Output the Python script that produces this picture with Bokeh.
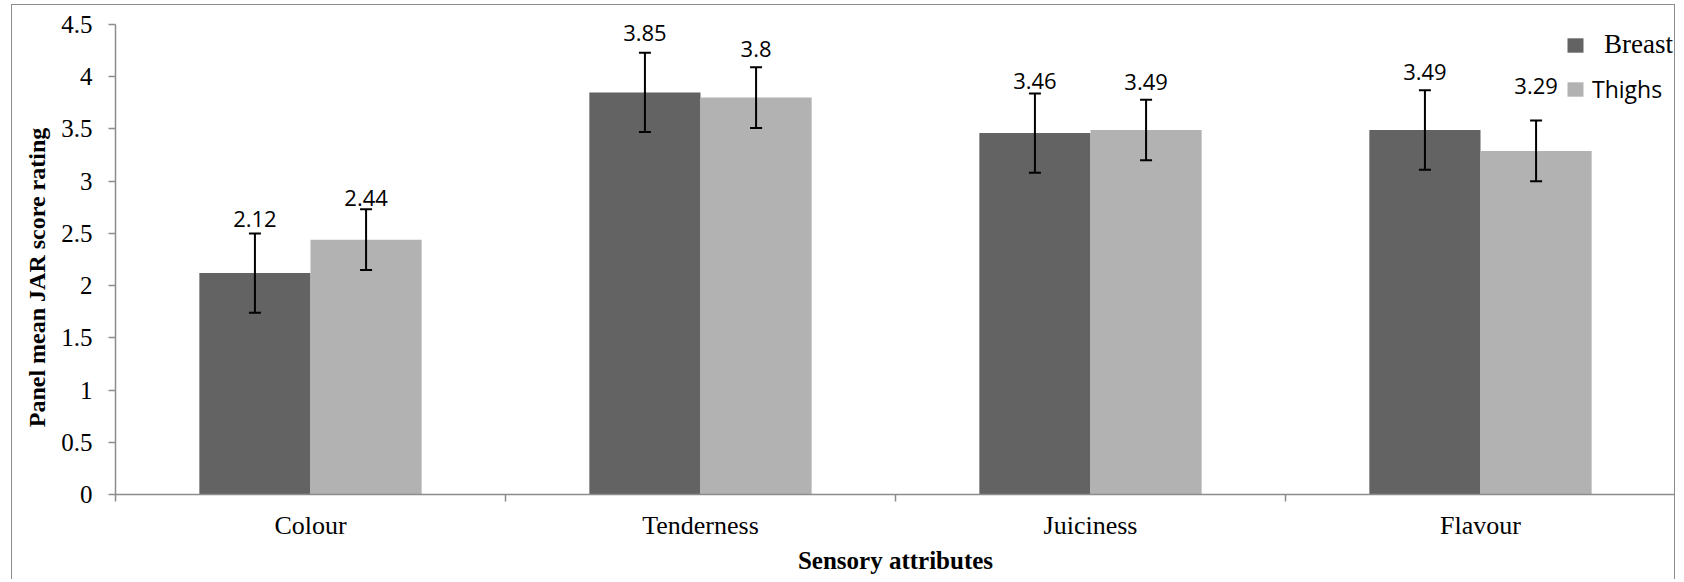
import numpy as np
from bokeh.plotting import figure
from bokeh.models import (ColumnDataSource, FixedTicker, Whisker, TeeHead, Legend,
                          LegendItem, Range1d)
from bokeh.core.properties import value
from bokeh.embed import file_html
from bokeh.resources import INLINE

# ---- data ----
categories = ["Colour", "Tenderness", "Juiciness", "Flavour"]
breast = [2.12, 3.85, 3.46, 3.49]
thighs = [2.44, 3.80, 3.49, 3.29]
breast_err = [0.38, 0.38, 0.38, 0.38]
thighs_err = [0.29, 0.29, 0.29, 0.29]
breast_labels = ["2.12", "3.85", "3.46", "3.49"]
thighs_labels = ["2.44", "3.8", "3.49", "3.29"]
y_ticks = [0, 0.5, 1, 1.5, 2, 2.5, 3, 3.5, 4, 4.5]
y_tick_labels = ["0", "0.5", "1", "1.5", "2", "2.5", "3", "3.5", "4", "4.5"]

# ---- style: pixel nudges of the value labels (as placed in the original) ----
breast_label_dy = [-6, -11.5, -4, -10.5]
thighs_label_dy = [-3, -10.5, -9.5, -26.5]

BREAST_C = "#636363"
THIGHS_C = "#b2b2b2"
AXIS_C = "#8c8c8c"
SERIF = "Liberation Serif"
SANS = "Open Sans"
NBSP = "\u00a0"

idx = np.arange(len(categories))
centers = idx + 0.5
bw = 0.285
off = bw / 2

def make_src(vals, errs, labels, dys, shift):
    v = np.array(vals)
    e = np.array(errs)
    return ColumnDataSource(dict(x=centers + shift, top=v, upper=v + e, lower=v - e,
                                 lab=labels, dy=dys))

src_b = make_src(breast, breast_err, breast_labels, breast_label_dy, -off)
src_t = make_src(thighs, thighs_err, thighs_labels, thighs_label_dy, off)

p = figure(width=1664, height=575, output_backend="svg", toolbar_location=None,
           x_range=Range1d(0, len(categories)), y_range=Range1d(0, 4.5),
           min_border_left=103, min_border_right=1, min_border_top=19, min_border_bottom=86)
p.styles = {"margin-left": "11px", "margin-top": "4px",
            "border-top": "1px solid #8c8c8c", "border-left": "1px solid #8c8c8c",
            "border-right": "1px solid #8c8c8c"}
p.outline_line_color = None
p.grid.visible = False
p.background_fill_color = "white"
p.border_fill_color = "white"

rb = p.vbar(x="x", top="top", width=bw, bottom=0, source=src_b, fill_color=BREAST_C, line_color=None)
rt = p.vbar(x="x", top="top", width=bw, bottom=0, source=src_t, fill_color=THIGHS_C, line_color=None)

for s in (src_b, src_t):
    w = Whisker(base="x", upper="upper", lower="lower", source=s, dimension="height",
                line_color="black", line_width=2, level="overlay",
                upper_head=TeeHead(size=12, line_color="black", line_width=2),
                lower_head=TeeHead(size=12, line_color="black", line_width=2))
    p.add_layout(w)
    p.text(x="x", y="upper", text="lab", source=s, text_align="center",
           text_baseline="bottom", y_offset="dy", text_font=value(SANS),
           text_font_size="22px", text_color="black")

# x axis: labels at category centres, ticks at category boundaries
xa = p.xaxis[0]
xa.ticker = FixedTicker(ticks=list(centers), minor_ticks=list(range(len(categories) + 1)))
xa.major_label_overrides = {float(c): n for c, n in zip(centers, categories)}
xa.major_tick_out = 0
xa.major_tick_in = 0
xa.minor_tick_out = 7
xa.minor_tick_in = 0
xa.minor_tick_line_color = AXIS_C
xa.minor_tick_line_width = 1.5
xa.axis_line_color = AXIS_C
xa.axis_line_width = 1.5
xa.major_label_standoff = 9
xa.axis_label = "Sensory attributes"
xa.axis_label_standoff = 4
p.xaxis.major_label_text_font = SERIF
p.xaxis.major_label_text_font_size = "26px"
p.xaxis.major_label_text_color = "black"
p.xaxis.axis_label_text_font = SERIF
p.xaxis.axis_label_text_font_style = "bold"
p.xaxis.axis_label_text_font_size = "25px"
p.xaxis.axis_label_text_color = "black"

ya = p.yaxis[0]
ya.ticker = FixedTicker(ticks=y_ticks, minor_ticks=[])
ya.major_label_overrides = {float(t): l for t, l in zip(y_ticks, y_tick_labels)}
ya.major_tick_out = 7
ya.major_tick_in = 0
ya.major_tick_line_color = AXIS_C
ya.major_tick_line_width = 1.5
ya.axis_line_color = AXIS_C
ya.axis_line_width = 1.5
ya.major_label_standoff = 16
# trailing no-break spaces shift the rotated title slightly downwards, as in the original
ya.axis_label = "Panel mean JAR score rating" + NBSP * 6
ya.axis_label_standoff = 8
p.yaxis.major_label_text_font = SERIF
p.yaxis.major_label_text_font_size = "25px"
p.yaxis.major_label_text_color = "black"
p.yaxis.axis_label_text_font = SERIF
p.yaxis.axis_label_text_font_style = "bold"
p.yaxis.axis_label_text_font_size = "24px"
p.yaxis.axis_label_text_color = "black"

# legends (different fonts per entry, as in the original)
lg_b = Legend(items=[LegendItem(label="Breast", renderers=[rb])], location=(1450, 434),
              glyph_width=20, glyph_height=18, label_standoff=19, label_height=30,
              label_text_font=SERIF, label_text_font_size="27px", label_text_color="black",
              padding=0, margin=0, border_line_color=None, background_fill_alpha=0)
lg_t = Legend(items=[LegendItem(label="Thighs", renderers=[rt])], location=(1450, 389),
              glyph_width=20, glyph_height=18, label_standoff=7, label_height=26,
              label_text_font=SANS, label_text_font_size="23px", label_text_color="black",
              padding=0, margin=0, border_line_color=None, background_fill_alpha=0)
p.add_layout(lg_b, "center")
p.add_layout(lg_t, "center")

open("out.html", "w").write(file_html(p, INLINE))
